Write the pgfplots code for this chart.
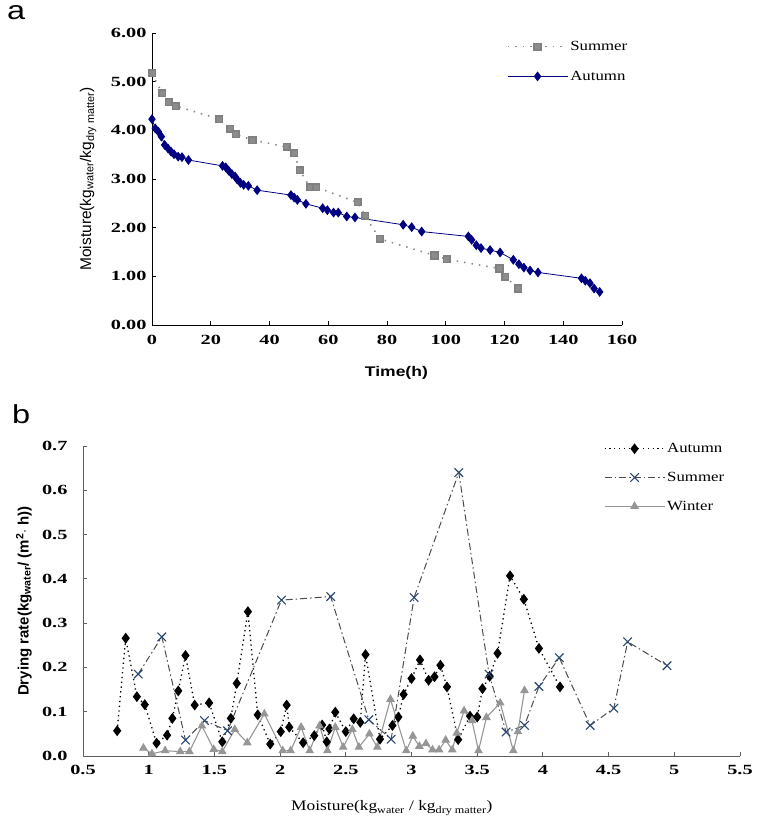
\documentclass[border=0pt]{standalone}
\usepackage{fontspec}
\setmainfont{Liberation Serif}
\newfontfamily\tickfont{Liberation Serif}[FakeStretch=1.45]
\newfontfamily\legfont{Liberation Serif}[FakeStretch=1.2]
\newfontfamily\sansfont{Liberation Sans}
\newfontfamily\wsans{Liberation Sans}[FakeStretch=1.25]
\usepackage{pgfplots}
\usepackage{pgfplotstable}
\pgfplotsset{compat=1.18}
\definecolor{navy}{RGB}{0,0,128}
\definecolor{sgray}{RGB}{140,140,140}
\definecolor{xblue}{RGB}{40,70,110}
\definecolor{wgray}{RGB}{150,150,150}
\definecolor{axgray}{RGB}{95,95,95}

\pgfplotstableread{
t m
0 5.17
3.5 4.76
5.7 4.58
8.1 4.50
22.9 4.23
26.6 4.03
28.5 3.92
34.2 3.80
45.9 3.66
48.4 3.53
50.3 3.18
53.8 2.83
55.9 2.83
70.0 2.52
72.6 2.24
77.5 1.77
96.2 1.43
100.4 1.35
118.3 1.16
120.3 0.99
124.7 0.75
}\summerA

\pgfplotstableread{
t m
0 4.23
1.1 4.04
2.2 3.97
3.2 3.87
4.3 3.70
5.4 3.63
6.5 3.56
7.5 3.51
8.9 3.46
10.2 3.45
12.4 3.39
24.0 3.27
25.1 3.24
26.1 3.17
27.2 3.10
28.3 3.05
29.0 2.99
30.1 2.92
31.2 2.88
32.8 2.86
35.8 2.77
47.3 2.67
48.4 2.62
49.5 2.57
52.4 2.49
58.1 2.40
59.7 2.36
61.8 2.31
63.4 2.31
66.3 2.23
69.1 2.21
85.5 2.06
88.4 2.01
91.8 1.92
107.7 1.82
108.8 1.75
110.4 1.64
112.0 1.58
115.1 1.54
118.5 1.49
123.0 1.34
124.9 1.25
126.6 1.18
128.7 1.12
131.4 1.08
146.2 0.96
147.5 0.91
149.1 0.86
150.5 0.75
152.4 0.68
}\autumnA

\pgfplotstableread{
x r
0.76 0.057
0.825 0.266
0.91 0.134
0.97 0.116
1.06 0.029
1.14 0.047
1.18 0.085
1.225 0.147
1.28 0.227
1.35 0.115
1.46 0.120
1.56 0.032
1.625 0.085
1.67 0.164
1.755 0.326
1.83 0.093
1.925 0.027
2.005 0.055
2.05 0.115
2.07 0.065
2.175 0.030
2.26 0.046
2.32 0.070
2.355 0.032
2.375 0.061
2.42 0.099
2.50 0.055
2.56 0.084
2.61 0.076
2.65 0.229
2.76 0.038
2.855 0.069
2.90 0.088
2.94 0.139
3.00 0.175
3.065 0.217
3.13 0.171
3.175 0.179
3.22 0.205
3.27 0.156
3.355 0.037
3.445 0.090
3.50 0.088
3.54 0.152
3.595 0.180
3.655 0.232
3.75 0.407
3.855 0.354
3.97 0.243
4.13 0.156
}\autumnB

\pgfplotstableread{
x r
0.92 0.185
1.10 0.269
1.28 0.036
1.425 0.080
1.60 0.057
2.01 0.352
2.385 0.360
2.675 0.082
2.845 0.038
3.02 0.358
3.36 0.640
3.59 0.185
3.72 0.054
3.86 0.069
3.97 0.157
4.125 0.222
4.36 0.069
4.54 0.108
4.645 0.258
4.945 0.204
}\summerB

\pgfplotstableread{
x r
0.96 0.018
1.025 0.005
1.125 0.012
1.24 0.010
1.31 0.010
1.405 0.068
1.495 0.015
1.56 0.010
1.655 0.060
1.75 0.030
1.88 0.095
2.02 0.012
2.08 0.012
2.16 0.065
2.225 0.012
2.30 0.068
2.36 0.012
2.42 0.065
2.48 0.020
2.55 0.060
2.60 0.020
2.68 0.050
2.74 0.020
2.84 0.128
2.96 0.012
3.01 0.045
3.06 0.022
3.11 0.028
3.16 0.014
3.21 0.014
3.26 0.036
3.31 0.014
3.345 0.052
3.40 0.102
3.46 0.080
3.51 0.012
3.57 0.087
3.675 0.120
3.775 0.012
3.81 0.055
3.86 0.148
}\winterB

\begin{document}
\begin{tikzpicture}[x=1pt,y=1pt]
\useasboundingbox (0,0) rectangle (757,-822);
\node[anchor=north west, inner sep=0] at (7,-5) {\wsans\fontsize{26}{26}\selectfont a};
\node[anchor=north west, inner sep=0] at (12,-404) {\wsans\fontsize{26}{26}\selectfont b};

\begin{axis}[
  at={(152pt,-325pt)}, anchor=south west, scale only axis,
  width=470pt, height=292pt,
  xmin=0, xmax=160, ymin=0, ymax=6,
  axis x line*=bottom, axis y line*=left,
  axis line style={-, black, line width=0.9pt},
  tick style={black, line width=0.9pt},
  tick align=inside, major tick length=4pt,
  xtick={0,20,...,160}, ytick={0,1,...,6},
  yticklabels={0.00,1.00,2.00,3.00,4.00,5.00,6.00},
  /pgf/number format/assume math mode=true,
  ticklabel style={font=\tickfont\bfseries\fontsize{14}{14}\selectfont},
  xticklabel style={yshift=-7pt},
  yticklabel style={xshift=-2pt},
  xlabel={\wsans\bfseries\fontsize{14}{14}\selectfont Time(h)},
  xlabel style={at={(axis description cs:0.52,-0.165)}, anchor=center},
  ylabel={\sansfont\fontsize{15.5}{15.5}\selectfont Moisture(kg\textsubscript{water}/kg\textsubscript{dry matter})},
  ylabel style={at={(axis description cs:-0.136,0.5)}, anchor=center, rotate=0},
  legend style={draw=none, fill=none, at={(axis description cs:0.748,0.986)}, anchor=north west,
    font=\legfont\fontsize{14}{14}\selectfont, row sep=15pt},
  legend cell align=left,
  legend image code/.code={\draw[mark repeat=2,mark phase=2,#1] plot coordinates {(0pt,0pt) (30pt,0pt) (60pt,0pt)};},
]
\addplot[sgray, line width=1.6pt, dash pattern=on 1.5pt off 6pt, mark=square*, mark size=3.3pt,
  mark options={solid, fill=sgray, draw=gray}] table[x=t,y=m] {\summerA};
\addlegendentry{Summer}
\addplot[navy, line width=0.8pt, mark=diamond*, mark size=4.3pt, mark options={fill=navy}] table[x=t,y=m] {\autumnA};
\addlegendentry{Autumn}
\end{axis}

\begin{axis}[
  at={(83pt,-756pt)}, anchor=south west, scale only axis,
  width=657pt, height=310pt,
  xmin=0.5, xmax=5.5, ymin=0, ymax=0.7,
  axis x line*=bottom, axis y line*=left,
  axis line style={-, axgray, line width=0.9pt},
  tick style={axgray, line width=0.9pt},
  tick align=inside, major tick length=4pt,
  xtick={0.5,1,1.5,2,2.5,3,3.5,4,4.5,5,5.5},
  xticklabels={0.5,1,1.5,2,2.5,3,3.5,4,4.5,5,5.5},
  ytick={0,0.1,0.2,0.3,0.4,0.5,0.6,0.7},
  yticklabels={0.0,0.1,0.2,0.3,0.4,0.5,0.6,0.7},
  ticklabel style={font=\tickfont\bfseries\fontsize{14}{14}\selectfont},
  xticklabel style={yshift=-6pt},
  yticklabel style={xshift=-12pt},
  xlabel={\legfont\fontsize{14.5}{14.5}\selectfont Moisture(kg\textsubscript{water} / kg\textsubscript{dry matter})},
  xlabel style={at={(axis description cs:0.47,-0.168)}, anchor=center},
  ylabel={\sansfont\bfseries\fontsize{15}{15}\selectfont Drying rate(kg\textsubscript{water}/ (m\textsuperscript{2}$\cdot$ h))},
  ylabel style={at={(axis description cs:-0.09,0.5)}, anchor=center},
  legend style={draw=none, fill=none, at={(axis description cs:0.788,1.022)}, anchor=north west,
    font=\legfont\fontsize{14}{14}\selectfont, row sep=14pt},
  legend cell align=left,
  legend image code/.code={\draw[mark repeat=2,mark phase=2,#1] plot coordinates {(0pt,0pt) (30pt,0pt) (60pt,0pt)};},
]
\addplot[black, line width=1.3pt, dash pattern=on 1.3pt off 3.5pt, mark=diamond*, mark size=4.4pt,
  mark options={solid, fill=black}] table[x=x,y=r] {\autumnB};
\addlegendentry{Autumn}
\addplot[black!70, line width=1pt, dash pattern=on 7pt off 3pt on 1.5pt off 3pt, mark=x, mark size=6pt,
  mark options={solid, draw=xblue, line width=1.1pt}] table[x=x,y=r] {\summerB};
\addlegendentry{Summer}
\addplot[wgray, line width=1.1pt, mark=triangle*, mark size=4pt, mark options={fill=wgray}] table[x=x,y=r] {\winterB};
\addlegendentry{Winter}
\end{axis}
\end{tikzpicture}
\end{document}
